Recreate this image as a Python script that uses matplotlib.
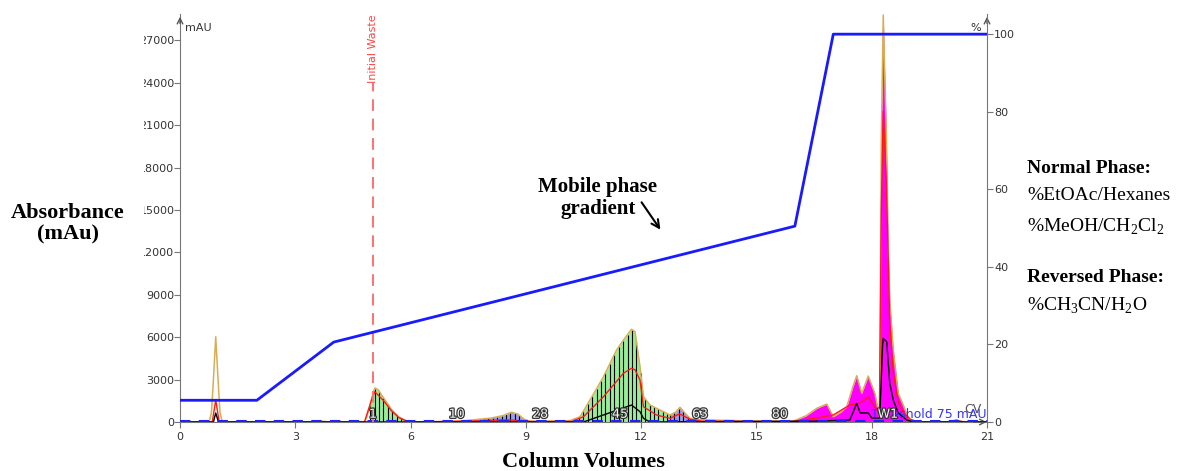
import numpy as np
import matplotlib
matplotlib.use("Agg")
import matplotlib.pyplot as plt
import matplotlib.patheffects as pe
from matplotlib.transforms import Bbox

plt.rcParams['font.family'] = ['DejaVu Sans']
plt.rcParams['mathtext.fontset'] = 'custom'
plt.rcParams['mathtext.rm'] = 'Liberation Serif'

# total absorbance trace (mAU) against column volumes
cv = [0, 0.76, 0.82, 0.87, 0.93, 0.99, 1.04, 1.1, 3.5, 3.7, 3.9, 4.81, 4.9, 4.95, 5.0,
      5.07, 5.15, 5.3, 5.5, 5.7, 5.9, 6.0, 7.0, 7.2, 7.45, 7.8, 8.1, 8.4, 8.63, 8.8,
      8.95, 9.1, 10.0, 10.15, 10.41, 10.67, 11.02, 11.36, 11.54, 11.75, 11.84, 11.97,
      12.06, 12.23, 12.49, 12.75, 12.9, 13.01, 13.15, 13.27, 13.45, 13.79, 15.0, 15.96,
      16.3, 16.57, 16.83, 17.0, 17.2, 17.35, 17.5, 17.61, 17.74, 17.91, 18.08, 18.21,
      18.25, 18.3, 18.34, 18.38, 18.43, 18.47, 18.56, 18.69, 18.82, 18.94, 19.07,
      20.0, 20.2, 20.4, 21]
total = [0, 0, 700, 3000, 6030, 3000, 700, 0, 0, 60, 0, 0, 700, 1200, 1800,
         2405, 2300, 1700, 900, 350, 80, 0, 30, 60, 100, 200, 280, 450, 690, 550,
         200, 60, 80, 100, 375, 1557, 3205, 5094, 5800, 6560, 6390, 3912,
         1790, 1203, 850, 495, 700, 1040, 600, 262, 160, 140, 60, 60,
         450, 967, 1270, 375, 700, 1080, 2400, 3276, 2030, 3254, 2030, 280,
         20000, 28800, 24400, 20400, 12170, 8630, 5094, 2030, 1200, 375, 0,
         0, 150, 0, 0]

# second wavelength
red_cv = [0, 0.84, 0.93, 1.02, 1.1, 4.8, 5.0, 5.07, 5.3, 5.5, 5.7, 5.95, 7.5, 8.3,
          8.63, 8.95, 9.2, 10.2, 10.5, 11.02, 11.54, 11.75, 11.84, 11.97, 12.06, 12.4,
          12.75, 13.0, 13.27, 13.6, 15.9, 16.57, 17.0, 17.43, 17.7, 17.91, 18.08, 18.2,
          18.25, 18.3, 18.38, 18.47, 18.56, 18.69, 18.82, 19.0, 19.2, 20.0, 20.2, 20.4, 21]
red = [0, 0, 1560, 0, 0, 0, 1700, 2140, 1500, 800, 300, 0, 60, 140,
       140, 60, 30, 40, 375, 1790, 3450, 3800, 3700, 2970, 1080, 495,
       260, 570, 200, 60, 30, 280, 500, 1200, 1320, 1790, 1080, 600,
       15000, 22000, 17000, 7000, 3500, 1400, 700, 200, 0, 0, 120, 0, 0]

# third wavelength
blk_cv = [0, 0.87, 0.93, 1.0, 1.05, 10.5, 11.75, 11.97, 12.06, 12.23, 16.5, 17.43,
          17.61, 17.7, 17.91, 18.0, 18.21, 18.28, 18.3, 18.39, 18.47, 18.56, 18.69,
          18.91, 19.1, 21]
blk = [0, 0, 640, 0, 0, 0, 1200, 730, 260, 0, 60, 140,
       1320, 640, 640, 280, 280, 5300, 5920, 5680, 2740, 1560, 640,
       140, 0, 0]

# solvent gradient (%B)
grad_cv = [0, 2, 4, 16, 17, 21]
grad_pct = [5.6, 5.6, 20.6, 50.5, 100, 100]

# collected fraction ranges
green_ranges = [(4.95, 6.0), (10.15, 12.75)]
blue_ranges = [(7.45, 8.95), (12.75, 13.45)]
waste_range = (15.96, 19.07)
frac_width = 0.115

frac_labels = ['1', '10', '28', '45', '63', '80', 'W1']
frac_label_cv = [5.02, 7.2, 9.37, 11.45, 13.53, 15.61, 18.42]

cv = np.array(cv)
total = np.array(total)

fig = plt.figure(figsize=(11.95, 4.71), dpi=100)
ax = fig.add_axes([180 / 1195, 49 / 471, 807 / 1195, 408 / 471])
ax2 = ax.twinx()

ymax = 28870
ax.set_xlim(0, 21)
ax.set_ylim(0, ymax)
ax2.set_ylim(0, 105.2)

def fill_region(a, b, color):
    m = (cv >= a - 1e-9) & (cv <= b + 1e-9)
    ax.fill_between(cv, 0, total, where=m, color=color, lw=0, zorder=2)

for a, b in green_ranges:
    fill_region(a, b, '#98ee98')
    xs = np.arange(a, b, frac_width)
    ax.vlines(xs, 0, np.interp(xs, cv, total), color='black', lw=0.8, zorder=3)
for a, b in blue_ranges:
    fill_region(a, b, '#9d9de8')
    xs = np.arange(a, b, frac_width)
    ax.vlines(xs, 0, np.interp(xs, cv, total), color='black', lw=0.8, zorder=3)
fill_region(waste_range[0], waste_range[1], '#ff00ff')

ax.plot(cv, total, color='#d8ad55', lw=1.1, zorder=4)
ax.plot(red_cv, red, color='#ff1a1a', lw=1.0, zorder=5)
ax.plot(blk_cv, blk, color='black', lw=1.0, zorder=5)

# threshold
ax.plot([0, 21], [75, 75], color='#2020ff', lw=1.5, dashes=(5, 4), zorder=6)
ax.text(21, 60, 'Threshold 75 mAU', color='#3333ff', fontsize=9,
        ha='right', va='bottom', zorder=6)

# initial waste marker
ax.plot([5.03, 5.03], [0, 24000], color='#ff7070', lw=1.4, dashes=(6, 4), zorder=6)
ax.text(5.03, ymax, 'Initial Waste', rotation=90, ha='center', va='top',
        color='#ff4444', fontsize=8)

for lab, x in zip(frac_labels, frac_label_cv):
    ax.text(x, 550, lab, ha='center', va='center', fontsize=9, color='#f4f4f4',
            zorder=8, path_effects=[pe.withStroke(linewidth=1.8, foreground='#333333')])

ax2.plot(grad_cv, grad_pct, color='#1a1aff', lw=2, zorder=5)

# axes styling
for a in (ax, ax2):
    a.spines['top'].set_visible(False)
    for s in a.spines.values():
        s.set_color('#777777')
ax.spines['right'].set_visible(False)
ax2.spines['left'].set_visible(False)
ax2.spines['bottom'].set_visible(False)

ax.set_xticks(range(0, 22, 3))
ax.set_yticks(range(0, 27001, 3000))
ax2.set_yticks(range(0, 101, 20))
ax.tick_params(axis='both', direction='out', length=4, labelsize=8,
               color='#777777', labelcolor='#333333')
ax.tick_params(axis='y', pad=0)
ax2.tick_params(axis='y', direction='out', length=4, labelsize=8, pad=1,
                color='#777777', labelcolor='#333333')

# left tick labels are cut at the page edge
clip = Bbox.from_extents(144, 0, 1195, 471)
for t in ax.yaxis.get_major_ticks():
    t.label1.set_clip_on(True)
    t.label1.set_clip_box(clip)

arrow = dict(arrowstyle='->', color='#555555', lw=1)
ax.annotate('', xy=(0, 1), xytext=(0, 0.97), xycoords='axes fraction', arrowprops=arrow)
ax.annotate('', xy=(1, 1), xytext=(1, 0.97), xycoords='axes fraction', arrowprops=arrow)
ax.annotate('', xy=(1.003, 0), xytext=(0.98, 0), xycoords='axes fraction', arrowprops=arrow)
ax.text(0.006, 0.965, 'mAU', transform=ax.transAxes, fontsize=8, color='#333333',
        ha='left', va='center')
ax.text(0.993, 0.965, '%', transform=ax.transAxes, fontsize=8, color='#333333',
        ha='right', va='center')
ax.text(20.4, 420, 'CV', fontsize=9, color='#555555', ha='left', va='bottom')

serif = 'Liberation Serif'
fig.text(68 / 1195, 1 - 224 / 471, 'Absorbance\n(mAu)', family=serif, weight='bold',
         fontsize=16, ha='center', va='center', linespacing=1.1)
fig.text(583 / 1195, 1 - 462 / 471, 'Column Volumes', family=serif, weight='bold',
         fontsize=16, ha='center', va='center')
fig.text(598 / 1195, 1 - 198 / 471, 'Mobile phase\ngradient', family=serif,
         weight='bold', fontsize=15, ha='center', va='center', linespacing=1.15)
ax.annotate('', xy=(662, 471 - 232), xytext=(640, 471 - 200), xycoords='figure pixels',
            textcoords='figure pixels',
            arrowprops=dict(arrowstyle='->', color='black', lw=1.5, mutation_scale=14))

rx = 1027 / 1195
fig.text(rx, 1 - 169 / 471, 'Normal Phase:', family=serif, weight='bold', fontsize=14, va='center')
fig.text(rx, 1 - 196 / 471, '%EtOAc/Hexanes', family=serif, fontsize=14, va='center')
fig.text(rx, 1 - 227 / 471, '%MeOH/CH$_2$Cl$_2$', family=serif, fontsize=14, va='center')
fig.text(rx, 1 - 277 / 471, 'Reversed Phase:', family=serif, weight='bold', fontsize=14, va='center')
fig.text(rx, 1 - 306 / 471, '%CH$_3$CN/H$_2$O', family=serif, fontsize=14, va='center')

fig.savefig('out.png', dpi=100)
